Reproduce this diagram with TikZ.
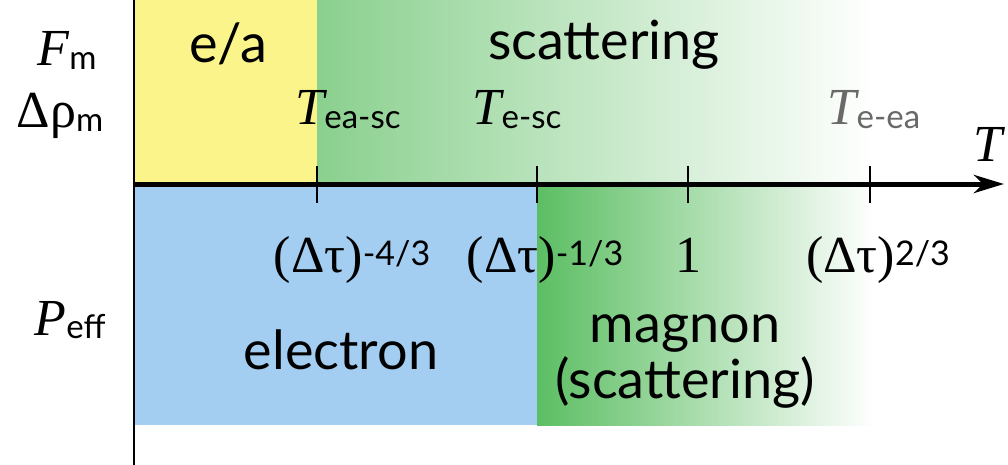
\documentclass[tikz,border=0pt]{standalone}
\usepackage{fontspec}
\setmainfont{Lato}
\newfontfamily\serif{Liberation Serif}
\usetikzlibrary{arrows.meta}
\definecolor{yellowc}{RGB}{250,244,138}
\definecolor{gtop}{RGB}{138,208,142}
\definecolor{gbot}{RGB}{92,190,99}
\definecolor{bluec}{RGB}{163,206,241}
\definecolor{grayt}{RGB}{105,105,105}
\newcommand\bigsans{\fontsize{54}{58}\selectfont}
\newcommand\subsz{\fontsize{33}{35}\selectfont}
\newcommand\supsz{\fontsize{34}{36}\selectfont}
\newcommand\serifbig{\fontsize{52}{56}\selectfont\serif}
\newcommand\Tlab[1]{{\serifbig\itshape T}\raisebox{-0.38em}{\subsz #1}}
\newcommand\pw[1]{{\serifbig (Δτ)}\raisebox{0.62em}{\supsz #1}}
\begin{document}
\begin{tikzpicture}[x=1pt,y=-1pt,
  lab/.style={inner sep=0pt, anchor=base},
  tickline/.style={line width=2.6pt},
]
\useasboundingbox (0,0) rectangle (1008,465);
% regions
\fill[yellowc] (134,0) rectangle (317,184);
\shade[left color=gtop, right color=white] (317,0) rectangle (875,184);
\fill[bluec] (134,184) rectangle (537,425);
\shade[left color=gbot, right color=white] (537,184) rectangle (875,425);
% axes
\coordinate (vtop) at (134,0);
\coordinate (vbot) at (134,465);
\draw[line width=1.8pt] (vtop) -- (vbot);
\coordinate (hs) at (134,184);
\coordinate (he) at (1004,184);
\draw[line width=5pt,-{Stealth[length=30pt,width=18pt,inset=9pt]}] (hs) -- (he);
% ticks
\foreach \n/\x in {t1/317,t2/537,t3/688,t4/870}{
  \coordinate (\n) at (\x,184);
  \draw[tickline] ([yshift=18pt]\n) -- ([yshift=-19pt]\n);
}
% region labels
\node[lab] (ea) at (228,63) {\bigsans e/a};
\node[lab] (sc) at (604,60) {\bigsans scattering};
\node[lab] (el) at (341,369) {\bigsans electron};
\node[lab] (mg) at (685,342) {\bigsans magnon};
\node[lab] (msc) at (685,398) {\bigsans (scattering)};
% temperature labels
\node[lab] (Tea) at (348,125) {\Tlab{ea-sc}};
\node[lab] (Tesc) at (517,125) {\Tlab{e-sc}};
\node[lab,text=grayt] (Teea) at (874,125) {\Tlab{e-ea}};
\node[lab] (TT) at (988,162) {\serifbig\itshape T};
% tick labels
\node[lab] (l1) at (352,272) {\pw{-4/3}};
\node[lab] (l2) at (545,272) {\pw{-1/3}};
\node[lab] (l3) at (688,272) {\serifbig 1};
\node[lab] (l4) at (878,272) {\pw{2/3}};
% axis quantity labels
\node[lab] (Fm) at (67,66) {{\serifbig\itshape F}\raisebox{-0.38em}{\subsz m}};
\node[lab] (rho) at (60,128) {{\serifbig Δρ}\raisebox{-0.38em}{\subsz m}};
\node[lab] (Pe) at (70,335) {{\serifbig\itshape P}\raisebox{-0.38em}{\subsz eff}};
\end{tikzpicture}
\end{document}
